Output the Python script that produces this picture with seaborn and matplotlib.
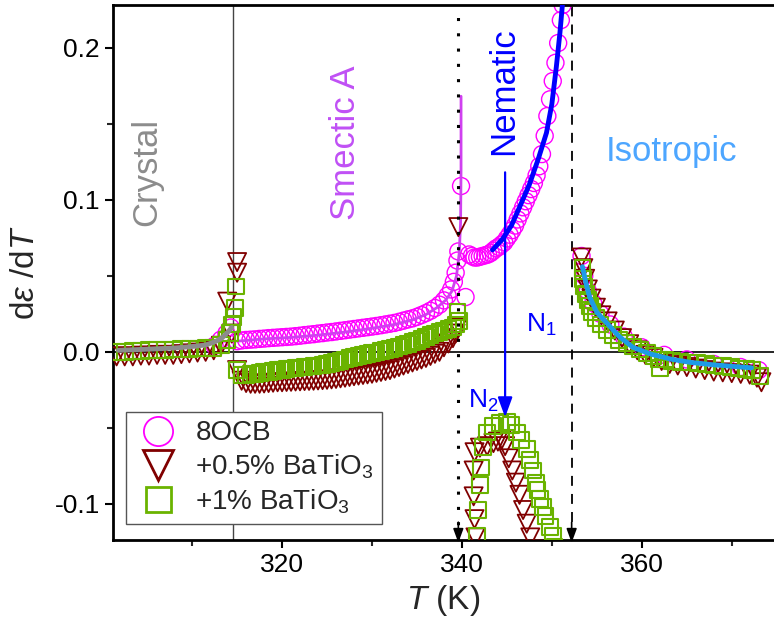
import matplotlib
matplotlib.use("Agg")
import matplotlib.pyplot as plt
import seaborn as sns
import pandas as pd
from matplotlib.lines import Line2D

# ---------------- data ----------------
# 8OCB (pure)
t_8ocb = [312.5, 313.2, 313.8, 314.3,
          315.0, 315.5, 316.0, 316.5, 317.0, 317.5, 318.0, 318.5, 319.0, 319.5,
          320.0, 320.5, 321.0, 321.5, 322.0, 322.5, 323.0, 323.5, 324.0, 324.5,
          325.0, 325.5, 326.0, 326.5, 327.0, 327.5, 328.0, 328.5, 329.0, 329.5,
          330.0, 330.5, 331.0, 331.5, 332.0, 332.5, 333.0, 333.5, 334.0, 334.5,
          335.0, 335.5, 336.0, 336.5, 337.0, 337.5, 338.0, 338.4, 338.8, 339.1,
          339.3, 339.5, 339.6, 339.9, 340.4,
          340.8, 341.1, 341.4, 341.7, 342.0, 342.3, 342.6, 342.9, 343.2, 343.5,
          343.8, 344.1, 344.4, 344.7, 345.0, 345.3, 345.6, 345.9, 346.2, 346.5,
          346.8, 347.1, 347.4, 347.7, 348.0, 348.3, 348.6, 348.9, 349.2, 349.5,
          349.8, 350.1, 350.4, 350.7, 351.0, 351.2,
          353.3, 353.6, 354.0, 354.6, 355.4, 356.5, 358.0, 360.0, 362.5, 365.0,
          368.0, 371.0, 373.0]
y_8ocb = [0.004, 0.008, 0.012, 0.016,
          0.007, 0.0075, 0.0078, 0.008, 0.0082, 0.0085, 0.0087, 0.009, 0.0092, 0.0094,
          0.0096, 0.0098, 0.010, 0.0103, 0.0106, 0.011, 0.0113, 0.0116, 0.012, 0.0123,
          0.0127, 0.013, 0.0134, 0.0138, 0.0142, 0.0146, 0.015, 0.0154, 0.0158, 0.0162,
          0.0166, 0.017, 0.0175, 0.018, 0.0185, 0.019, 0.0197, 0.0205, 0.0213, 0.022,
          0.023, 0.0242, 0.0255, 0.027, 0.0288, 0.031, 0.0338, 0.037, 0.041, 0.046,
          0.052, 0.060, 0.066, 0.109, 0.036,
          0.064, 0.063, 0.062, 0.062, 0.0625, 0.063, 0.0635, 0.064, 0.065, 0.0665,
          0.068, 0.069, 0.0705, 0.072, 0.0745, 0.077, 0.080, 0.083, 0.087, 0.091,
          0.095, 0.099, 0.103, 0.107, 0.111, 0.116, 0.122, 0.130, 0.142, 0.155,
          0.166, 0.178, 0.190, 0.203, 0.218, 0.228,
          0.063, 0.050, 0.040, 0.032, 0.025, 0.018, 0.010, 0.003, -0.002, -0.005,
          -0.008, -0.010, -0.012]

# +0.5% BaTiO3
t_05 = [301.6, 302.5, 303.4, 304.3, 305.2, 306.1, 307.0, 307.9, 308.8, 309.7,
        310.6, 311.5, 312.4, 313.2, 313.9, 314.4, 315.0, 315.0,
        315.0, 315.5, 316.0, 316.5, 317.0, 317.5, 318.0, 318.5, 319.0, 319.5,
        320.0, 320.5, 321.0, 321.5, 322.0, 322.5, 323.0, 323.5, 324.0, 324.5,
        325.0, 325.5, 326.0, 326.5, 327.0, 327.5, 328.0, 328.5, 329.0, 329.5,
        330.0, 330.5, 331.0, 331.5, 332.0, 332.5, 333.0, 333.5, 334.0, 334.5,
        335.0, 335.5, 336.0, 336.5, 337.0, 337.5, 338.0, 338.5, 339.0, 339.3,
        339.5, 339.6,
        341.5, 341.4, 341.3, 341.3, 341.4, 342.0, 342.8, 343.5, 344.0, 344.4,
        344.8, 345.2, 345.6, 346.0, 346.4, 346.8, 347.2, 347.6, 348.0,
        353.3, 353.5, 353.7, 354.0, 354.4, 354.9, 355.5, 356.2, 357.0, 357.8,
        358.6, 359.5, 360.4, 361.3, 362.2, 363.1, 364.0, 365.0, 366.0, 367.0,
        368.0, 369.0, 370.0, 371.0, 372.0, 372.8, 373.3]
y_05 = [-0.003, -0.003, -0.003, -0.0025, -0.0025, -0.002, -0.002, -0.002, -0.0015, -0.001,
        -0.0005, 0.0, 0.001, 0.004, 0.033, 0.012, 0.052, 0.059,
        -0.012, -0.019, -0.0205, -0.021, -0.021, -0.021, -0.0208, -0.0205, -0.0203, -0.020,
        -0.020, -0.0198, -0.0197, -0.0195, -0.0194, -0.0192, -0.0191, -0.019, -0.0188, -0.0186,
        -0.0184, -0.0181, -0.0178, -0.0174, -0.017, -0.0165, -0.016, -0.0156, -0.0152, -0.0148,
        -0.0144, -0.0138, -0.0132, -0.0126, -0.012, -0.011, -0.010, -0.009, -0.008, -0.007,
        -0.006, -0.005, -0.004, -0.0027, -0.0013, 0.0, 0.003, 0.0055, 0.009, 0.012,
        0.016, 0.082,
        -0.122, -0.110, -0.095, -0.078, -0.066, -0.063, -0.062, -0.060, -0.059, -0.058,
        -0.062, -0.070, -0.078, -0.086, -0.094, -0.104, -0.113, -0.122, -0.130,
        0.062, 0.055, 0.048, 0.041, 0.035, 0.029, 0.024, 0.020, 0.014, 0.009,
        0.005, 0.001, -0.002, -0.004, -0.006, -0.008, -0.009, -0.010, -0.011, -0.012,
        -0.013, -0.0135, -0.014, -0.0145, -0.015, -0.017, -0.020]

# +1% BaTiO3
t_1 = [301.6, 302.5, 303.4, 304.3, 305.2, 306.1, 307.0, 307.9, 308.8, 309.7,
       310.6, 311.5, 312.3, 313.2, 313.9, 314.2, 314.4, 314.6, 314.8, 314.9,
       315.0, 315.5, 316.0, 316.5, 317.0, 317.5, 318.0, 318.5, 319.0, 319.5,
       320.0, 320.5, 321.0, 321.5, 322.0, 322.5, 323.0, 323.5, 324.0, 324.5,
       325.0, 325.5, 326.0, 326.5, 327.0, 327.5, 328.0, 328.5, 329.0, 329.5,
       330.0, 330.5, 331.0, 331.5, 332.0, 332.5, 333.0, 333.5, 334.0, 334.5,
       335.0, 335.5, 336.0, 336.5, 337.0, 337.5, 338.0, 338.5, 339.0, 339.3,
       339.5, 339.7,
       341.7, 341.8, 342.0, 342.1, 342.3, 342.8, 343.5, 344.2, 345.0, 345.5,
       346.1, 346.6, 347.2, 347.6, 347.9, 348.2, 348.4, 348.7, 349.0, 349.3,
       349.8, 350.1, 350.3,
       353.4, 353.5, 353.6, 353.8, 354.0, 354.2, 354.5, 354.9, 355.4, 356.1,
       356.8, 357.5, 358.3, 359.0, 359.8, 360.6, 361.3, 361.9, 362.0, 362.6,
       363.4, 364.3, 365.3, 366.2, 367.1, 368.0, 369.0, 369.9, 370.8, 371.6,
       372.3, 373.1]
y_1 = [0.0, 0.0, 0.0005, 0.0005, 0.001, 0.001, 0.0012, 0.0015, 0.0017, 0.002,
       0.0022, 0.0025, 0.0026, 0.0046, 0.008, 0.0125, 0.018, 0.023, 0.029, 0.043,
       -0.012, -0.015, -0.015, -0.0148, -0.0145, -0.014, -0.0135, -0.013, -0.0125, -0.012,
       -0.0117, -0.0113, -0.011, -0.0106, -0.0103, -0.010, -0.0096, -0.0093, -0.009, -0.0087,
       -0.008, -0.0073, -0.0066, -0.0058, -0.005, -0.0043, -0.0036, -0.003, -0.0023, -0.0016,
       -0.001, -0.0004, 0.0003, 0.001, 0.0018, 0.0026, 0.0035, 0.0044, 0.0053, 0.0063,
       0.0073, 0.0085, 0.0097, 0.011, 0.012, 0.013, 0.014, 0.015, 0.016, 0.018,
       0.026, 0.020,
       -0.121, -0.104, -0.0875, -0.076, -0.0625, -0.053, -0.049, -0.047, -0.046, -0.048,
       -0.053, -0.058, -0.064, -0.071, -0.078, -0.086, -0.091, -0.097, -0.102, -0.108,
       -0.115, -0.121, -0.128,
       0.055, 0.048, 0.043, 0.038, 0.034, 0.030, 0.026, 0.022, 0.018, 0.0145,
       0.011, 0.008, 0.006, 0.0035, 0.0015, -0.001, -0.003, -0.005, -0.0105, -0.005,
       -0.006, -0.0065, -0.007, -0.0075, -0.008, -0.009, -0.0095, -0.010, -0.011, -0.0115,
       -0.012, -0.016]

# fit curves
fit_cr_t = [301.8, 304.0, 306.0, 308.0, 310.0, 311.5, 312.5, 313.3, 313.9, 314.4]
fit_cr_y = [0.001, 0.0015, 0.002, 0.0025, 0.0035, 0.0045, 0.0065, 0.009, 0.0125, 0.016]

fit_sm_t = [315.0, 318.0, 321.0, 324.0, 327.0, 330.0, 332.5, 334.5, 336.0, 337.2,
            338.2, 338.9, 339.4, 339.7, 339.85, 339.9, 339.9]
fit_sm_y = [0.007, 0.0085, 0.0095, 0.011, 0.013, 0.0155, 0.018, 0.021, 0.0245, 0.029,
            0.034, 0.040, 0.050, 0.065, 0.085, 0.120, 0.168]

fit_n_t = [343.4, 344.5, 345.5, 346.4, 347.5, 348.5, 349.4, 350.0, 350.5, 350.9, 351.2]
fit_n_y = [0.067, 0.074, 0.083, 0.095, 0.110, 0.127, 0.144, 0.163, 0.1875, 0.210, 0.230]

fit_iso_t = [353.4, 353.8, 354.2, 355.0, 356.1, 357.5, 359.0, 361.0, 363.4, 365.5,
             367.9, 370.0, 372.2]
fit_iso_y = [0.056, 0.045, 0.036, 0.026, 0.019, 0.010, 0.003, -0.0015, -0.005, -0.007,
             -0.0085, -0.0095, -0.0105]

# transition temperatures (K)
t_cr = 314.5
t_sa = 339.6
t_ni = 352.2
t_arrow = 344.8

series_labels = ["8OCB", "+0.5% BaTiO$_3$", "+1% BaTiO$_3$"]
phase_labels = ["Crystal", "Smectic A", "Nematic", "Isotropic"]

# ---------------- style ----------------
sns.set_theme(style="ticks")
plt.rcParams["font.family"] = ["Liberation Sans", "DejaVu Sans"]
plt.rcParams["mathtext.fontset"] = "custom"
plt.rcParams["mathtext.rm"] = "Liberation Sans"
plt.rcParams["mathtext.it"] = "Liberation Sans:italic"
plt.rcParams["mathtext.bf"] = "Liberation Sans:bold"

C_MAG = "#FF00FF"
C_RED = "#800000"
C_GRN = "#6AB300"
C_BLUE = "#0000FF"
C_LBLUE = "#1E9BE6"
C_ISO_TXT = "#4DA6FF"
C_SM_TXT = "#C050F5"

fig = plt.figure(figsize=(7.74, 6.26), dpi=100)
ax = fig.add_axes([113/774, 86/626, 661/774, 535/626])

# reference lines
ax.axhline(0, color="black", lw=1.2, zorder=1)
ax.axvline(t_cr, color="#444444", lw=1.0, zorder=1)
ax.axvline(t_sa, color="black", lw=2.2, ls=(0, (1, 4)), zorder=6)
ax.axvline(t_ni, color="black", lw=1.3, ls=(0, (5.5, 4.5)), zorder=1)

df0 = pd.DataFrame({"T": t_8ocb, "y": y_8ocb})
df1 = pd.DataFrame({"T": t_05, "y": y_05})
df2 = pd.DataFrame({"T": t_1, "y": y_1})

sns.scatterplot(data=df0, x="T", y="y", ax=ax, marker="o", s=150,
                facecolors="none", edgecolor=C_MAG, linewidth=1.0, zorder=2)
sns.lineplot(x=fit_sm_t, y=fit_sm_y, ax=ax, sort=False, estimator=None,
             color="#D040F0", lw=2.0, zorder=3)
sns.lineplot(x=fit_n_t, y=fit_n_y, ax=ax, sort=False, estimator=None,
             color=C_BLUE, lw=3.5, zorder=3)
sns.scatterplot(data=df1, x="T", y="y", ax=ax, marker="v", s=170,
                facecolors="none", edgecolor=C_RED, linewidth=1.3, zorder=4)
sns.scatterplot(data=df2, x="T", y="y", ax=ax, marker="s", s=130,
                facecolors="none", edgecolor=C_GRN, linewidth=1.5, zorder=5)
sns.lineplot(x=fit_cr_t, y=fit_cr_y, ax=ax, sort=False, estimator=None,
             color="#8C8C8C", lw=3.5, zorder=6)
sns.lineplot(x=fit_iso_t, y=fit_iso_y, ax=ax, sort=False, estimator=None,
             color=C_LBLUE, lw=3.5, zorder=6)

# arrows
ax.annotate("", xy=(t_arrow, -0.043), xytext=(t_arrow, 0.118),
            arrowprops=dict(arrowstyle="-|>,head_length=0.6,head_width=0.22",
                            color=C_BLUE, lw=1.6, mutation_scale=20,
                            shrinkA=0, shrinkB=0), zorder=7)
for tx in (t_sa, t_ni):
    ax.annotate("", xy=(tx, -0.1255), xytext=(tx, -0.112),
                arrowprops=dict(arrowstyle="-|>,head_length=0.6,head_width=0.22",
                                color="black", lw=1.2, mutation_scale=14,
                                shrinkA=0, shrinkB=0), zorder=7,
                annotation_clip=False)

# phase labels
ax.text(305.0, 0.1185, phase_labels[0], rotation=90, color="#8C8C8C",
        fontsize=25, ha="center", va="center")
ax.text(327.1, 0.1375, phase_labels[1], rotation=90, color=C_SM_TXT,
        fontsize=25, ha="center", va="center")
ax.text(344.6, 0.1715, phase_labels[2], rotation=90, color=C_BLUE,
        fontsize=25, ha="center", va="center")
ax.text(363.3, 0.1315, phase_labels[3], color=C_ISO_TXT,
        fontsize=25, ha="center", va="center")
ax.text(348.8, 0.0175, "N$_1$", color=C_BLUE, fontsize=19, ha="center", va="center")
ax.text(342.4, -0.032, "N$_2$", color=C_BLUE, fontsize=19, ha="center", va="center")

# axes
ax.set_xlim(301.2, 374.7)
ax.set_ylim(-0.1237, 0.228)
ax.set_xticks([320, 340, 360])
ax.set_xticks([310, 330, 350, 370], minor=True)
ax.set_yticks([-0.1, 0.0, 0.1, 0.2])
ax.set_yticks([-0.05, 0.05, 0.15], minor=True)
ax.set_yticklabels(["-0.1", "0.0", "0.1", "0.2"])
ax.tick_params(axis="both", which="major", direction="out", length=6, width=1.5,
               labelsize=19, colors="black")
ax.tick_params(axis="both", which="minor", direction="out", length=4, width=1.5)
ax.set_xlabel("$T$ (K)", fontsize=24, labelpad=4)
ax.set_ylabel(r"d$\varepsilon$ /d$T$", fontsize=24, labelpad=10)
for side in ("left", "bottom", "top"):
    ax.spines[side].set_linewidth(2.0)
    ax.spines[side].set_color("black")
ax.spines["right"].set_visible(False)

# legend
handles = [
    Line2D([], [], ls="none", marker="o", ms=21, mfc="none", mec=C_MAG, mew=1.3),
    Line2D([], [], ls="none", marker="v", ms=22, mfc="none", mec=C_RED, mew=2.0),
    Line2D([], [], ls="none", marker="s", ms=18, mfc="none", mec=C_GRN, mew=2.0),
]
leg = ax.legend(handles, series_labels, loc="upper left",
                bbox_to_anchor=((126 - 113) / 661, (540 - 412) / 535),
                borderaxespad=0, fontsize=20, frameon=True, fancybox=False,
                edgecolor="#555555", framealpha=1, labelspacing=0.22,
                handletextpad=0.5, handlelength=1.7, borderpad=0.3)
leg.get_frame().set_linewidth(1.0)

fig.savefig("out.png", dpi=100)
